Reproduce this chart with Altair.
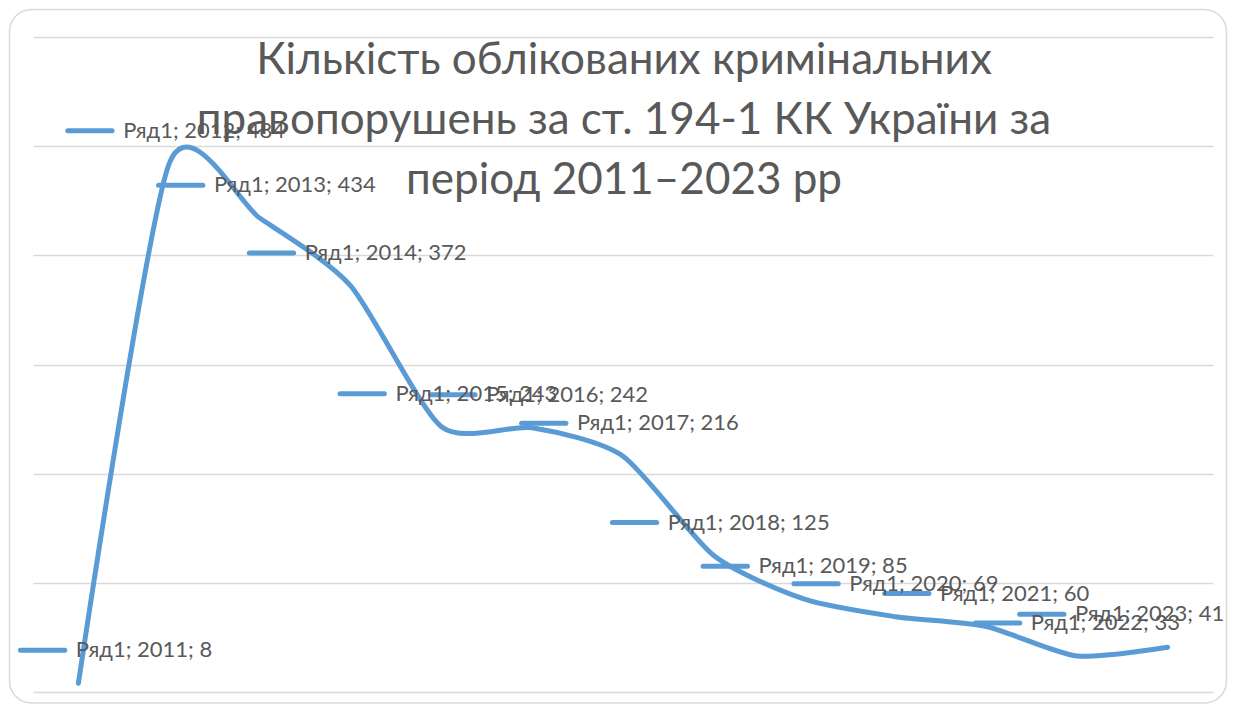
import altair as alt
import pandas as pd

years = [2011, 2012, 2013, 2014, 2015, 2016, 2017, 2018, 2019, 2020, 2021, 2022, 2023]
values = [8, 484, 434, 372, 243, 242, 216, 125, 85, 69, 60, 33, 41]
series_name = "Ряд1"
title_lines = [
    "Кількість облікованих кримінальних",
    "правопорушень за ст. 194-1 КК України за",
    "період 2011–2023 рр",
]
grid_values = [0, 100, 200, 300, 400, 500, 600]

df = pd.DataFrame({"year": years, "value": values})
df["label"] = [f"{series_name}; {y}; {v}" for y, v in zip(years, values)]

BLUE = "#5B9BD5"
GRAY = "#595959"

x_scale = alt.Scale(domain=[2010.5, 2023.5], nice=False, zero=False)
y_scale = alt.Scale(domain=[0, 600], nice=False)

base = alt.Chart(df)

grid = base.mark_line(opacity=0).encode(
    x=alt.X("year:Q", scale=x_scale, axis=None),
    y=alt.Y(
        "value:Q",
        scale=y_scale,
        axis=alt.Axis(
            values=grid_values, grid=True, labels=False, ticks=False,
            domain=False, title=None, gridColor="#D9D9D9", gridWidth=1.4,
        ),
    ),
)

line = base.mark_line(
    interpolate="cardinal", tension=0.3, strokeWidth=5, color=BLUE, strokeCap="round"
).encode(
    x=alt.X("year:Q", scale=x_scale, axis=None),
    y=alt.Y("value:Q", scale=y_scale),
)

labels_base = base.transform_calculate(
    key_x="clamp(datum.year - 1.117, 2010.362, 2021.37)"
).transform_calculate(
    key_x2="datum.key_x + 0.488",
    text_x="datum.key_x + 0.61",
)

keys = labels_base.mark_rule(
    strokeWidth=5, color=BLUE, strokeCap="round", yOffset=-33
).encode(
    x=alt.X("key_x:Q", scale=x_scale, axis=None),
    x2="key_x2:Q",
    y=alt.Y("value:Q", scale=y_scale),
)

texts = labels_base.mark_text(
    align="left", baseline="middle", dy=-33, font="Lato", fontSize=22, color=GRAY
).encode(
    x=alt.X("text_x:Q", scale=x_scale, axis=None),
    y=alt.Y("value:Q", scale=y_scale),
    text="label:N",
)

title = alt.Chart(pd.DataFrame({"t": [0]})).mark_text(
    align="center", baseline="alphabetic", font="Lato", fontSize=44,
    lineHeight=60, color=GRAY,
).encode(
    x=alt.value(591),
    y=alt.value(37),
    text=alt.value(title_lines),
)

border = alt.Chart(pd.DataFrame({"t": [0]})).mark_rect(
    fill=None, stroke="#D9D9D9", strokeWidth=1.5, cornerRadius=22
).encode(
    x=alt.value(-23.5), x2=alt.value(1193.5), y=alt.value(-27.5), y2=alt.value(666),
)

chart = alt.layer(border, grid, line, keys, texts, title).properties(
    width=1180,
    height=655,
    autosize=alt.AutoSizeParams(type="none"),
    padding={"left": 25, "top": 29, "right": 15, "bottom": 13},
    background="white",
).configure_view(stroke=None)

chart.save("out.html", embed_options={"renderer": "svg", "actions": False})
